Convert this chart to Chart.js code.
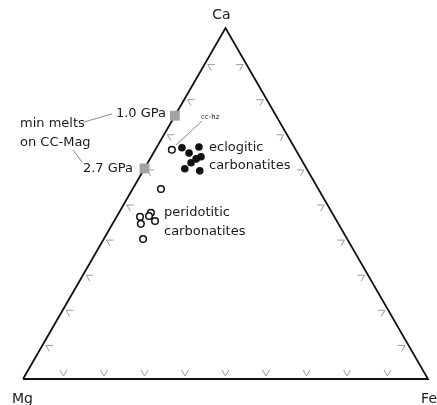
<!DOCTYPE html>
<html>
<head>
<meta charset="utf-8">
<script src="https://cdn.jsdelivr.net/npm/chart.js@4/dist/chart.umd.min.js"></script>
<style>
  html, body { margin: 0; padding: 0; background: #fff; }
  #wrap { width: 437px; height: 405px; }
</style>
</head>
<body>
<div id="wrap"><canvas id="c" width="437" height="405"></canvas></div>
<script>
// Ternary compositions, in percent: [Ca, Mg, Fe]
const cornerNames = ['Mg', 'Fe', 'Ca'];
const corners = [[0, 100, 0], [0, 0, 100], [100, 0, 0]];

const eclogitic = [
  [65.9, 27.8, 6.3], [64.4, 26.8, 8.8], [66.1, 23.5, 10.4], [63.3, 24.4, 12.3],
  [62.7, 25.9, 11.4], [61.6, 27.7, 10.7], [59.9, 30.1, 10.0], [59.3, 26.7, 14.0]
];
const peridotitic = [
  [65.3, 30.6, 4.1],  // cc-hz
  [54.2, 38.9, 7.0], [47.3, 44.7, 7.9], [46.5, 45.7, 7.9], [46.2, 48.0, 5.8],
  [45.0, 44.9, 10.1], [44.2, 48.8, 7.0], [39.9, 50.4, 9.7]
];
const minMeltNames = ['1.0 GPa', '2.7 GPa'];
const minMelts = [[75, 25, 0], [60, 40, 0]];
const tickSteps = [10, 20, 30, 40, 50, 60, 70, 80, 90];

const H = Math.sqrt(3) / 2;
function toXY(c) {
  const s = c[0] + c[1] + c[2];
  const ca = c[0] / s, fe = c[2] / s;
  return { x: fe + ca / 2, y: ca * H };
}

// Gray chevron ticks along each edge plus the free text labels
const ternaryDecor = {
  id: 'ternaryDecor',
  beforeDatasetsDraw(chart) {
    const { ctx, scales: { x, y } } = chart;
    const px = p => ({ x: x.getPixelForValue(p.x), y: y.getPixelForValue(p.y) });
    const P = corners.map(c => px(toXY(c)));   // Mg, Fe, Ca
    const centroid = { x: (P[0].x + P[1].x + P[2].x) / 3, y: (P[0].y + P[1].y + P[2].y) / 3 };
    const edges = [[P[0], P[1]], [P[1], P[2]], [P[2], P[0]]];
    ctx.save();
    ctx.strokeStyle = '#9a9a9a';
    ctx.lineWidth = 1;
    edges.forEach(([a, b]) => {
      const dx = b.x - a.x, dy = b.y - a.y, len = Math.hypot(dx, dy);
      let nx = -dy / len, ny = dx / len;
      const mx = (a.x + b.x) / 2, my = (a.y + b.y) / 2;
      if ((centroid.x - mx) * nx + (centroid.y - my) * ny < 0) { nx = -nx; ny = -ny; }
      const ang = Math.atan2(ny, nx);
      tickSteps.forEach(t => {
        const f = t / 100;
        const vx = a.x + dx * f + nx * 3, vy = a.y + dy * f + ny * 3;
        ctx.beginPath();
        ctx.moveTo(vx + 7 * Math.cos(ang - Math.PI / 6), vy + 7 * Math.sin(ang - Math.PI / 6));
        ctx.lineTo(vx, vy);
        ctx.lineTo(vx + 7 * Math.cos(ang + Math.PI / 6), vy + 7 * Math.sin(ang + Math.PI / 6));
        ctx.stroke();
      });
    });

    // leader lines
    ctx.strokeStyle = '#8a8a8a';
    ctx.lineWidth = 1;
    [[84, 122, 112, 114], [73, 150, 82, 162], [176, 145, 202, 121]].forEach(l => {
      ctx.beginPath(); ctx.moveTo(l[0], l[1]); ctx.lineTo(l[2], l[3]); ctx.stroke();
    });

    // corner labels
    ctx.fillStyle = '#1a1a1a';
    ctx.textBaseline = 'middle';
    ctx.font = '14px "DejaVu Sans", sans-serif';
    ctx.textAlign = 'center';
    ctx.fillText(cornerNames[2], P[2].x - 4, P[2].y - 13);
    ctx.textAlign = 'left';
    ctx.fillText(cornerNames[0], P[0].x - 11, P[0].y + 20);
    ctx.textAlign = 'right';
    ctx.fillText(cornerNames[1], P[1].x + 9, P[1].y + 20);

    // annotations
    ctx.font = '13px "DejaVu Sans", sans-serif';
    ctx.textAlign = 'right';
    ctx.fillText(minMeltNames[0], 166, 114);
    ctx.fillText(minMeltNames[1], 133, 169);
    ctx.textAlign = 'left';
    ctx.fillText('min melts', 20, 124);
    ctx.fillText('on CC-Mag', 20, 143);
    ctx.fillText('eclogitic', 209, 148);
    ctx.fillText('carbonatites', 209, 166);
    ctx.fillText('peridotitic', 164, 213);
    ctx.fillText('carbonatites', 164, 232);
    ctx.font = '7px "DejaVu Sans", sans-serif';
    ctx.fillText('cc-hz', 201, 117);
    ctx.restore();
  }
};

new Chart(document.getElementById('c'), {
  type: 'scatter',
  data: {
    datasets: [
      {
        label: 'frame',
        data: [...corners, corners[0]].map(toXY),
        showLine: true,
        borderColor: '#111',
        borderWidth: 1.8,
        pointRadius: 0,
        fill: false,
        order: 10,
        clip: false
      },
      {
        label: 'min melts on CC-Mag',
        data: minMelts.map(toXY),
        pointStyle: 'rect',
        pointRadius: 7,
        backgroundColor: '#a3a3a3',
        borderColor: '#a3a3a3',
        borderWidth: 0,
        order: 2,
        clip: false
      },
      {
        label: 'peridotitic carbonatites',
        data: peridotitic.map(toXY),
        pointStyle: 'circle',
        pointRadius: 3.3,
        backgroundColor: '#fff',
        borderColor: '#111',
        borderWidth: 1.5,
        order: 1,
        clip: false
      },
      {
        label: 'eclogitic carbonatites',
        data: eclogitic.map(toXY),
        pointStyle: 'circle',
        pointRadius: 3.8,
        backgroundColor: '#111',
        borderColor: '#111',
        borderWidth: 0,
        order: 0,
        clip: false
      }
    ]
  },
  options: {
    responsive: false,
    devicePixelRatio: 1,
    animation: false,
    layout: { padding: { left: 23, right: 9, top: 28, bottom: 26 } },
    scales: {
      x: { type: 'linear', min: 0, max: 1, display: false },
      y: { type: 'linear', min: 0, max: H, display: false }
    },
    plugins: { legend: { display: false }, tooltip: { enabled: false } }
  },
  plugins: [ternaryDecor]
});
</script>
</body>
</html>
